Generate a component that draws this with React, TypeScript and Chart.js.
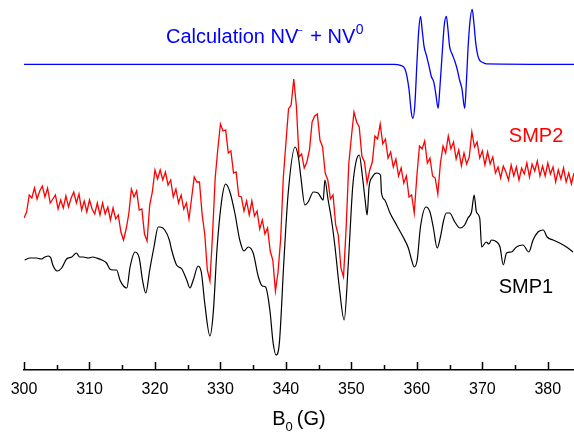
import React, { useEffect, useRef } from "react";
import { Chart, registerables } from "chart.js";

Chart.register(...registerables);

// ---- Data (field B0 in gauss, signal in arbitrary units) ----
const X_MIN = 300;
const X_MAX = 384;
const TICK_STEP = 5;

// vertical stacking offsets of the three spectra (arbitrary units)
const OFFSET_SMP1 = 112;
const OFFSET_SMP2 = 170;
const OFFSET_CALC = 305.7;

// Calculation NV- + NV0
const CALC_B = [300, 356.5, 357.5, 358.2, 358.8, 359.15, 359.4, 359.7, 360.0, 360.3, 360.56, 360.8, 361.1, 361.5, 361.9, 362.2, 362.6, 362.9, 363.25, 363.5, 363.9, 364.2, 364.5, 364.75, 365.0, 365.4, 365.8, 366.2, 366.5, 366.9, 367.3, 367.55, 367.8, 368.1, 368.45, 368.7, 369.0, 369.3, 369.6, 370.0, 370.6, 384];
const CALC_V = [0, 0, -1, -5, -25, -48, -54, -40, 0, 35, 48, 35, 18, 8, -3, -12, -18, -30, -44, -25, 14, 40, 48, 35, 18, 10, 3, -6, -15, -25, -44, -20, 14, 42, 55, 42, 21, 9, 4, 2, 0.5, 0];

// SMP1
const SMP1_B = [300.1, 300.9, 301.9, 302.6, 303.2, 303.7, 304.1, 304.4, 305.1, 305.75, 306.5, 307.3, 308.0, 308.5, 309.05, 309.8, 310.5, 311.1, 311.9, 312.6, 313.1, 313.6, 314.15, 314.65, 315.2, 315.7, 316.2, 316.95, 317.6, 318.1, 318.6, 319.2, 319.85, 320.5, 320.8, 321.5, 322.2, 322.55, 323.3, 324.1, 324.85, 325.35, 325.85, 326.6, 327.1, 327.6, 328.4, 328.9, 329.5, 330.2, 330.8, 331.45, 332.2, 332.95, 333.6, 334.25, 335.0, 335.8, 336.4, 336.9, 337.55, 338.05, 338.5, 339.0, 339.7, 340.35, 341.4, 341.9, 342.3, 342.9, 343.4, 344.2, 344.9, 345.7, 345.95, 346.45, 346.97, 347.5, 348.15, 348.9, 349.5, 350.2, 350.7, 351.2, 351.7, 352.1, 352.4, 352.7, 353.2, 353.85, 354.45, 354.6, 355.1, 355.9, 356.9, 357.9, 358.7, 359.2, 359.6, 360.05, 360.55, 361.4, 362.0, 362.5, 363.1, 363.6, 364.1, 364.5, 365.0, 365.8, 366.6, 367.3, 367.8, 368.35, 368.75, 369.1, 369.6, 369.9, 370.6, 371.0, 371.4, 372.2, 372.7, 373.2, 373.7, 374.45, 375.2, 376.2, 377.1, 377.75, 378.5, 379.3, 379.9, 380.8, 381.8, 382.85, 383.85];
const SMP1_V = [-2, 0, 0, -1, 1, 2, 0, -7, -13, -10, -1, 1, 5, 1, 1, 0, 1, 0, -2, -5, -11, -12, -12, -22, -28, -30, -9, 6, 0, -22, -35, -12, 11, 31, 31, 28, 18, 8, -7, -11, -22, -30, -22, -8, -15, -45, -78, -55, 11, 58, 74, 66, 45, 18, 7, 11, 5, -19, -28, -29, -52, -85, -97, -85, -2, 65, 111, 101, 80, 53, 56, 66, 65, 58, 78, 58, 38, 11, -29, -62, -9, 71, 96, 103, 81, 58, 43, 71, 81, 85, 83, 65, 58, 45, 33, 21, 10, -2, -9, -2, 31, 51, 46, 31, 10, 21, 38, 45, 45, 36, 30, 33, 40, 46, 63, 46, 40, 11, 16, 14, 18, 16, 11, -7, 5, 6, 11, 13, 6, 18, 26, 28, 21, 18, 15, 11, 6];

// SMP2 (sampled every 0.4 G from 300 G)
const SMP2_START = 300;
const SMP2_STEP = 0.4;
const SMP2_V = [
  -18, -12, 5, 2, 12, 1, 9, 14, 3, 12, -3, 1, 5, -9, 0, -8, 4, -7, 2, 8,
  -3, 6, -10, -1, -12, 0, -9, -14, -3, -15, -3, -14, -7, -20, -8, -19, -15, -32, -40, -29,
  -14, 11, 3, 9, -10, -9, -34, -41, -5, 8, 30, 21, 30, 20, 28, 15, 20, 3, 11, -3,
  5, -9, -3, -19, 2, 23, 18, 18, -14, -34, -70, -81, -34, 22, 51, 76, 69, 70, 47, 49,
  27, 28, 4, 3, -11, -1, -15, -1, -16, -11, -29, -20, -34, -28, -51, -60, -91, -72, -39, 22,
  57, 91, 95, 121, 94, 43, 46, 32, 38, 50, 78, 84, 86, 60, 53, 27, 20, 1, 5, -25,
  -35, -68, -77, -28, 36, 63, 88, 78, 73, 44, 38, 17, 30, 38, 64, 61, 76, 56, 61, 42,
  48, 33, 41, 24, 32, 17, 24, 3, 5, -13, 24, 54, 51, 59, 37, 42, 24, 22, 6, 37,
  54, 47, 64, 51, 58, 41, 50, 34, 47, 36, 43, 68, 53, 58, 42, 49, 35, 48, 36, 43,
  27, 33, 22, 34, 28, 20, 35, 24, 33, 20, 32, 26, 37, 23, 36, 29, 39, 24, 34, 24,
  37, 26, 33, 18, 30, 21, 32, 18, 27, 16, 27
];

const TICK_FONT = "'Liberation Sans', Arial, Helvetica, sans-serif";

const toPts = (xs: number[], vs: number[], off: number) =>
  xs.map((x, i) => ({ x, y: vs[i] + off }));

const annotationsPlugin = {
  id: "epr-annotations",
  afterDraw(chart: any) {
    const { ctx, chartArea } = chart;
    const xs = chart.scales.x;
    const ys = chart.scales.y;
    ctx.save();
    // inward ticks
    ctx.strokeStyle = "#000";
    ctx.lineWidth = 1.5;
    for (let v = X_MIN; v <= X_MAX; v += TICK_STEP) {
      const px = Math.round(xs.getPixelForValue(v)) + 0.5;
      const len = v % 10 === 0 ? 8 : 5;
      ctx.beginPath();
      ctx.moveTo(px, chartArea.bottom);
      ctx.lineTo(px, chartArea.bottom - len);
      ctx.stroke();
    }

    ctx.textBaseline = "alphabetic";
    ctx.textAlign = "left";

    // Calculation label
    let x = xs.getPixelForValue(321.68);
    const yb = ys.getPixelForValue(326.7);
    ctx.fillStyle = "#0000ff";
    ctx.font = `20px ${TICK_FONT}`;
    const t1 = "Calculation NV";
    ctx.fillText(t1, x, yb);
    x += ctx.measureText(t1).width;
    ctx.font = `10px ${TICK_FONT}`;
    ctx.fillText("\u2212", x - 1, yb - 9);
    ctx.font = `20px ${TICK_FONT}`;
    const t2 = "+ NV";
    const x2 = x + 12;
    ctx.fillText(t2, x2, yb);
    const x3 = x2 + ctx.measureText(t2).width + 0.5;
    ctx.font = `14px ${TICK_FONT}`;
    ctx.fillText("0", x3, yb - 9.5);

    // SMP2 label
    ctx.fillStyle = "#ff0000";
    ctx.font = `20px ${TICK_FONT}`;
    ctx.fillText("SMP2", xs.getPixelForValue(374.05), ys.getPixelForValue(228.5));

    // SMP1 label
    ctx.fillStyle = "#000000";
    ctx.fillText("SMP1", xs.getPixelForValue(372.5), ys.getPixelForValue(77.5));

    // axis title B0 (G)
    ctx.font = `20px ${TICK_FONT}`;
    const wB = ctx.measureText("B").width;
    const wG = ctx.measureText("(G)").width;
    ctx.font = `13px ${TICK_FONT}`;
    const w0 = ctx.measureText("0").width;
    const total = wB + w0 + 4 + wG;
    const cx = (chartArea.left + chartArea.right) / 2;
    let tx = cx - total / 2;
    const tb = chartArea.bottom + 55;
    ctx.font = `20px ${TICK_FONT}`;
    ctx.fillText("B", tx, tb);
    tx += wB;
    ctx.font = `13px ${TICK_FONT}`;
    ctx.fillText("0", tx, tb + 6);
    tx += w0 + 4;
    ctx.font = `20px ${TICK_FONT}`;
    ctx.fillText("(G)", tx, tb);
    ctx.restore();
  },
};

export default function App() {
  const ref = useRef<HTMLCanvasElement | null>(null);
  useEffect(() => {
    if (!ref.current) return;
    const smp2 = SMP2_V.map((v, i) => ({ x: SMP2_START + i * SMP2_STEP, y: v + OFFSET_SMP2 }));
    const chart = new Chart(ref.current, {
      type: "line",
      data: {
        datasets: [
          {
            label: "SMP1",
            data: toPts(SMP1_B, SMP1_V, OFFSET_SMP1),
            borderColor: "#000000",
            borderWidth: 1.2,
            pointRadius: 0,
            cubicInterpolationMode: "monotone",
            fill: false,
          },
          {
            label: "SMP2",
            data: smp2,
            borderColor: "#ff0000",
            borderWidth: 1.3,
            pointRadius: 0,
            tension: 0,
            fill: false,
          },
          {
            label: "Calculation NV- + NV0",
            data: toPts(CALC_B, CALC_V, OFFSET_CALC),
            borderColor: "#0000ff",
            borderWidth: 1.3,
            pointRadius: 0,
            cubicInterpolationMode: "monotone",
            fill: false,
          },
        ],
      },
      options: {
        animation: false,
        responsive: false,
        maintainAspectRatio: false,
        devicePixelRatio: 1,
        layout: { padding: { left: 24, right: 0, top: 0, bottom: 0 } },
        plugins: { legend: { display: false }, tooltip: { enabled: false } },
        scales: {
          x: {
            type: "linear",
            min: X_MIN,
            max: X_MAX,
            afterFit: (s: any) => {
              s.height = 64;
            },
            grid: { display: true, drawOnChartArea: false, drawTicks: false },
            border: { display: true, color: "#000", width: 1.5 },
            ticks: {
              stepSize: TICK_STEP,
              includeBounds: false,
              autoSkip: false,
              maxRotation: 0,
              padding: 10,
              color: "#000",
              font: { family: TICK_FONT, size: 16 },
              callback: (v: any) => (Number(v) % 10 === 0 ? String(v) : ""),
            },
          },
          y: { type: "linear", display: false, min: 0, max: 370 },
        },
      },
      plugins: [annotationsPlugin],
    });
    return () => chart.destroy();
  }, []);
  return (
    <div style={{ position: "fixed", left: 0, top: 0, width: 574, height: 434, background: "#fff" }}>
      <canvas ref={ref} width={574} height={434} style={{ display: "block" }} />
    </div>
  );
}
